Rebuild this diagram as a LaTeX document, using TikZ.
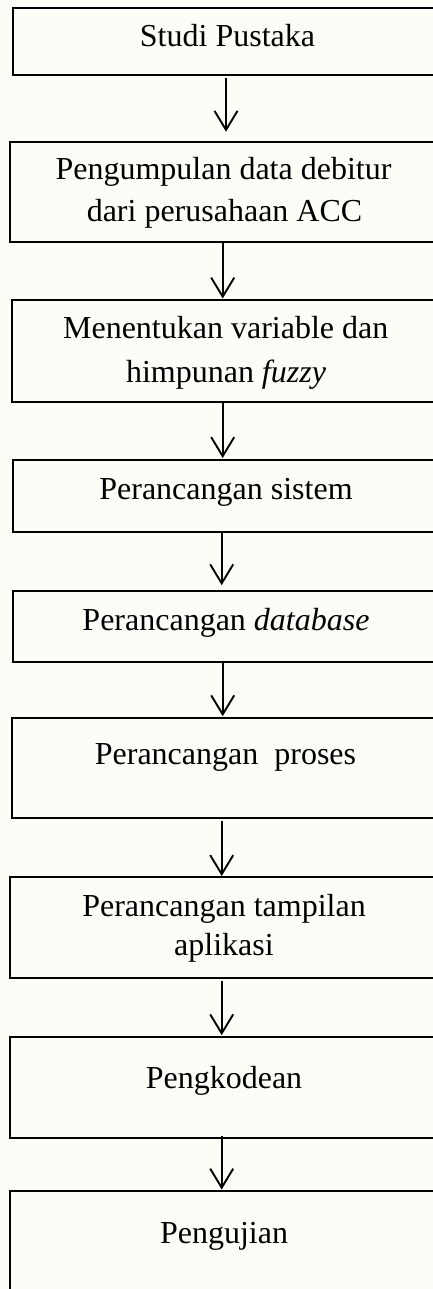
\documentclass[tikz,border=0pt]{standalone}
\usepackage{fontspec}
\setmainfont{Liberation Serif}
\usetikzlibrary{arrows.meta}
\definecolor{paper}{RGB}{252,253,247}
\tikzset{
  stepbox/.style={draw=black, line width=1.9pt, fill=none, inner sep=0pt,
    outer sep=0pt, anchor=north west},
  lbl/.style={anchor=base, inner sep=0pt, font=\fontsize{32}{40}\selectfont},
  arr/.style={line width=1.9pt, -{Straight Barb[length=19pt,width=23pt,line width=1.9pt]}},
}
\begin{document}
\begin{tikzpicture}[x=1pt,y=-1pt]
  % page and background
  \fill[paper] (0,0) rectangle (433,1289);
  \useasboundingbox (0,0) rectangle (433,1289);
  \clip (0,0) rectangle (433,1289);

  % process boxes (common centre line x = 224)
  \node[stepbox, minimum width=422.6pt, minimum height=66.7pt]  (b1) at (12.7,8.3)   {};
  \node[stepbox, minimum width=428pt,   minimum height=100pt]   (b2) at (10,141.7)   {};
  \node[stepbox, minimum width=424pt,   minimum height=101.7pt] (b3) at (12,300)     {};
  \node[stepbox, minimum width=422.6pt, minimum height=71.7pt]  (b4) at (12.7,460)   {};
  \node[stepbox, minimum width=422.6pt, minimum height=71.6pt]  (b5) at (12.7,590.7) {};
  \node[stepbox, minimum width=424.6pt, minimum height=100.6pt] (b6) at (11.7,717.7) {};
  \node[stepbox, minimum width=428pt,   minimum height=101pt]   (b7) at (10,877.3)   {};
  \node[stepbox, minimum width=428pt,   minimum height=101pt]   (b8) at (10,1036.7)  {};
  \node[stepbox, minimum width=428pt,   minimum height=110pt]   (b9) at (10,1191)    {};

  % box texts
  \node[lbl] (t1)  at (227.5,46.7)  {Studi Pustaka};
  \node[lbl] (t2a) at (223.5,180)   {Pengumpulan data debitur};
  \node[lbl] (t2b) at (224.5,221.7) {dari perusahaan ACC};
  \node[lbl] (t3a) at (225.7,338.3) {Menentukan variable dan};
  \node[lbl] (t3b) at (226,382.7)   {himpunan \textit{fuzzy}};
  \node[lbl] (t4)  at (226,499.3)   {Perancangan sistem};
  \node[lbl] (t5)  at (226,630)     {Perancangan \textit{database}};
  \node[lbl] (t6)  at (225.5,764)   {Perancangan\ \ proses};
  \node[lbl] (t7a) at (224,916.7)   {Perancangan tampilan};
  \node[lbl] (t7b) at (224,955)     {aplikasi};
  \node[lbl] (t8)  at (224,1088.3)  {Pengkodean};
  \node[lbl] (t9)  at (224,1243.3)  {Pengujian};

  % flow arrows
  \draw[arr] ([xshift=2pt,yshift=-3pt]b1.south)     -- ([xshift=2pt,yshift=10pt]b2.north);
  \draw[arr] ([xshift=-1.3pt]b2.south)              -- ([xshift=-1.3pt,yshift=1.5pt]b3.north);
  \draw[arr] ([xshift=-1.3pt,yshift=-1pt]b3.south)  -- ([xshift=-1.3pt,yshift=2pt]b4.north);
  \draw[arr] ([xshift=-2.3pt,yshift=-1pt]b4.south)  -- ([xshift=-2.3pt,yshift=5.5pt]b5.north);
  \draw[arr] ([xshift=-1.3pt]b5.south)              -- ([xshift=-1.3pt,yshift=1.5pt]b6.north);
  \draw[arr] ([xshift=-2.3pt,yshift=-3pt]b6.south)  -- ([xshift=-2.3pt,yshift=1.3pt]b7.north);
  \draw[arr] ([xshift=-2.3pt,yshift=-3pt]b7.south)  -- ([xshift=-2.3pt,yshift=1.5pt]b8.north);
  \draw[arr] ([xshift=-2.3pt,yshift=2pt]b8.south)   -- ([xshift=-2.3pt,yshift=1.5pt]b9.north);
\end{tikzpicture}
\end{document}
